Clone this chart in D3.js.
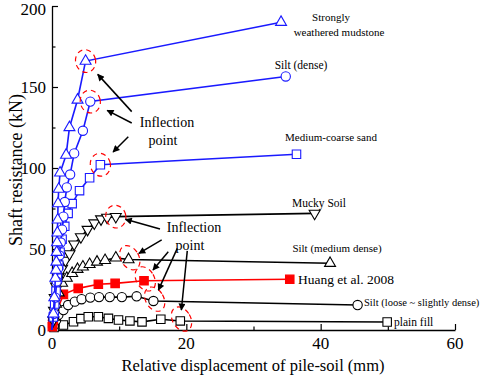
<!DOCTYPE html>
<html><head><meta charset="utf-8">
<script src="https://cdn.jsdelivr.net/npm/d3@7"></script>
<style>body{margin:0;background:#fff}svg{display:block}</style>
</head><body><svg id="c" width="498" height="376" font-family="'Liberation Serif', 'DejaVu Serif', 'Times New Roman', serif"></svg>
<script>
// ---- data (relative displacement mm, shaft resistance kN) ----
const mudstone  = [[0,0],[0.2,10],[0.35,20],[0.5,32],[0.6,37],[0.65,42],[0.7,48],[0.75,54],[0.8,60],[0.85,68],[0.9,78],[1.0,87],[1.2,97],[2.1,108],[2.6,125],[3.8,142],[5.0,166],[34.1,190]];
const siltDense = [[0,0],[0.3,10],[0.5,20],[0.7,30],[0.9,38],[1.1,46],[1.3,54],[1.5,62],[1.7,70],[1.9,79],[2.2,88],[2.7,96],[3.3,109],[4.6,123],[5.7,141],[34.8,156.5]];
const sand      = [[0,0],[0.2,8],[0.4,16],[0.6,24],[0.8,32],[1.0,40],[1.2,48],[1.5,56],[1.9,64],[2.4,72],[3.0,78],[4.1,86],[5.6,94],[7.2,102],[36.4,108.5]];
const mucky     = [[0,0],[0.2,6],[0.3,12],[0.4,20],[0.6,27],[1.0,33],[1.5,38],[2.0,43],[2.6,47],[3.3,53],[4.3,57.5],[5.3,62],[6.3,66],[7.3,68.5],[8.2,69.5],[9.5,70],[39.1,72]];
const siltMed   = [[0,0],[0.3,8],[0.6,16],[1.0,23],[1.5,29],[2.2,32],[3.0,35],[3.8,37.5],[4.6,39],[5.6,40.5],[6.7,42],[7.9,43],[9.5,44.5],[11.4,43.5],[41.4,41.2]];
const huang     = [[0,0],[0.05,2],[0.1,4],[0.2,6.2],[1.7,22],[3.9,25.7],[6.9,28.2],[9.4,28.8],[13.7,30.4],[35.4,31.3]];
const siltLoose = [[0,0],[0.3,3],[0.6,6],[0.94,9.3],[1.7,12.3],[2.4,15.4],[3.4,17.5],[4.4,19],[5.7,20],[7.0,20.3],[8.6,20.3],[10.4,20.3],[12.6,20.8],[15.1,17.9],[45.5,15.4]];
const plainFill = [[0,0],[0.3,1.5],[1.7,3.1],[3.2,5.1],[4.3,7],[5.4,8.2],[6.9,8.2],[8.4,7.2],[9.9,6.2],[11.6,5.6],[13.4,5],[16.2,6.6],[19.1,5.6],[49.9,4.9]];

const seriesNames = ["plain fill","Silt (loose ~ slightly dense)","Huang et al. 2008","Silt (medium dense)","Mucky Soil","Medium-coarse sand","Silt (dense)","Strongly weathered mudstone"];
const xTicks = [0,20,40,60];
const yTicks = [0,50,100,150,200];
const xTitle = "Relative displacement of pile-soil (mm)";
const yTitle = "Shaft resistance (kN)";
const annText = ["Inflection","point"];

// ---- styling / layout ----
const BLUE="#1a1aff", RED="#ff0000", BLK="#000";
const series = [
  {name:seriesNames[0], data:plainFill, color:BLK, sym:"square", fill:"#fff", infl:12},
  {name:seriesNames[1], data:siltLoose, color:BLK, sym:"circle", fill:"#fff", infl:13},
  {name:seriesNames[2], data:huang,     color:RED, sym:"square", fill:RED,    infl:8},
  {name:seriesNames[3], data:siltMed,   color:BLK, sym:"triangle", fill:"#fff", infl:13},
  {name:seriesNames[4], data:mucky,     color:BLK, sym:"down", fill:"#fff", infl:15},
  {name:seriesNames[5], data:sand,      color:BLUE, sym:"square", fill:"#fff", infl:13},
  {name:seriesNames[6], data:siltDense, color:BLUE, sym:"circle", fill:"#fff", infl:14},
  {name:seriesNames[7], data:mudstone,  color:BLUE, sym:"triangle", fill:"#fff", infl:16}
];

const svg = d3.select("#c");
const x = d3.scaleLinear().domain([0,60]).range([52,455]);
const y = d3.scaleLinear().domain([0,200]).range([330,6]);

// axes
const xAxis = d3.axisBottom(x).tickValues(d3.range(0,61,10)).tickSize(0).tickFormat("");
const gx = svg.append("g").attr("transform","translate(0,330)").call(xAxis);
gx.select(".domain").attr("stroke","#000").attr("stroke-width",1.3);
gx.selectAll(".tick line").attr("y2", d=> xTicks.includes(d)? -6 : -3.5).attr("stroke-width",1.2);
svg.append("g").selectAll("text").data(xTicks).join("text")
  .attr("x",d=>x(d)).attr("y",349).attr("text-anchor","middle").attr("font-size",17).text(d=>d);

const yAxis = d3.axisLeft(y).tickValues(d3.range(0,201,25)).tickSize(0).tickFormat("");
const gy = svg.append("g").attr("transform","translate(52,0)").call(yAxis);
gy.select(".domain").attr("stroke","#000").attr("stroke-width",1.3);
gy.selectAll(".tick line").attr("x2", d=> yTicks.includes(d)? 6 : 3.5).attr("stroke-width",1.2);
svg.append("g").selectAll("text").data(yTicks).join("text")
  .attr("x",46).attr("y",d=>Math.max(y(d)+6,15)).attr("text-anchor","end").attr("font-size",17).text(d=>d);

svg.append("text").attr("x",253).attr("y",371).attr("text-anchor","middle").attr("font-size",16.5).text(xTitle);
svg.append("text").attr("transform","translate(22,170) rotate(-90)").attr("text-anchor","middle").attr("font-size",18).text(yTitle);

// series
const line = d3.line().x(d=>x(d[0])).y(d=>y(d[1]));
const symGen = {
  square: d3.symbol(d3.symbolSquare, 72),
  circle: d3.symbol(d3.symbolCircle, 68),
  triangle: d3.symbol(d3.symbolTriangle, 52),
  down: d3.symbol(d3.symbolTriangle, 52)
};
series.forEach(s=>{
  const g = svg.append("g");
  g.append("path").attr("d",line(s.data)).attr("fill","none").attr("stroke",s.color).attr("stroke-width",1.6);
  g.selectAll("path.m").data(s.data.slice(1)).join("path").attr("class","m")
    .attr("d",symGen[s.sym]())
    .attr("transform",d=>`translate(${x(d[0])},${y(d[1])})${s.sym==="down"?" rotate(180)":""}`)
    .attr("fill",s.fill).attr("stroke",s.color).attr("stroke-width",1.1);
});

// inflection ellipses
series.forEach((s,i)=>{
  const p = s.data[s.infl];
  const lower = i<4;
  svg.append("ellipse").attr("cx",x(p[0])+(lower?2:0)).attr("cy",y(p[1])+(lower?-1:0))
    .attr("rx",lower?9:10).attr("ry",lower?13:11.5)
    .attr("transform",`rotate(${lower?-30:-15},${x(p[0])},${y(p[1])})`)
    .attr("fill","none").attr("stroke",RED).attr("stroke-width",1.2).attr("stroke-dasharray","5,4");
});

// arrows
svg.append("defs").append("marker").attr("id","ah").attr("viewBox","0 0 10 10").attr("refX",9).attr("refY",5)
  .attr("markerWidth",9).attr("markerHeight",7).attr("markerUnits","userSpaceOnUse").attr("orient","auto")
  .append("path").attr("d","M0,0L10,5L0,10z").attr("fill","#000");
const arrows = [
  {s:7, tail:[11.87,134.8], gap:18},
  {s:6, tail:[11.87,127.8], gap:19},
  {s:5, tail:[11.36,119.3], gap:18},
  {s:4, tail:[16.08,62.3], gap:10},
  {s:3, tail:[16.33,55.6], gap:12},
  {s:2, tail:[17.31,48.3], gap:14},
  {s:1, tail:[18.65,50.4], gap:12},
  {s:0, tail:[20.14,48.8], gap:11}
];
arrows.forEach(a=>{
  const p = series[a.s].data[series[a.s].infl];
  const px=x(p[0]), py=y(p[1]), tx=x(a.tail[0]), ty=y(a.tail[1]);
  const L=Math.hypot(tx-px,ty-py);
  const hx=px+(tx-px)/L*a.gap, hy=py+(ty-py)/L*a.gap;
  svg.append("line").attr("x1",tx).attr("y1",ty).attr("x2",hx).attr("y2",hy)
    .attr("stroke","#000").attr("stroke-width",1.5).attr("marker-end","url(#ah)");
});
// annotation text
[[167,127],[194,232]].forEach(([cx,cy])=>{
  svg.append("text").attr("x",cx).attr("y",cy).attr("text-anchor","middle").attr("font-size",14).text(annText[0]);
  svg.append("text").attr("x",cx-4).attr("y",cy+18).attr("text-anchor","middle").attr("font-size",14).text(annText[1]);
});

// series labels
const labels = [
  {t:["Strongly","weathered mudstone"], y:21, anchor:"middle", fs:11, dy:15, xs:[331,339]},
  {t:["Silt (dense)"], xs:[301], y:69, anchor:"middle", fs:11.5},
  {t:["Medium-coarse sand"], xs:[331], y:141, anchor:"middle", fs:11},
  {t:["Mucky Soil"], xs:[319], y:207, anchor:"middle", fs:11.5},
  {t:["Silt (medium dense)"], xs:[337], y:252, anchor:"middle", fs:11},
  {t:["Huang et al. 2008"], xs:[298], y:284, anchor:"start", fs:13.5},
  {t:["Silt (loose ~ slightly dense)"], xs:[364], y:306, anchor:"start", fs:10.5},
  {t:["plain fill"], xs:[394], y:326, anchor:"start", fs:11.5}
];
labels.forEach(l=>{
  l.t.forEach((s,i)=>svg.append("text").attr("x",l.xs[i]).attr("y",l.y+i*(l.dy||0)).attr("text-anchor",l.anchor).attr("font-size",l.fs).text(s));
});
</script></body></html>
